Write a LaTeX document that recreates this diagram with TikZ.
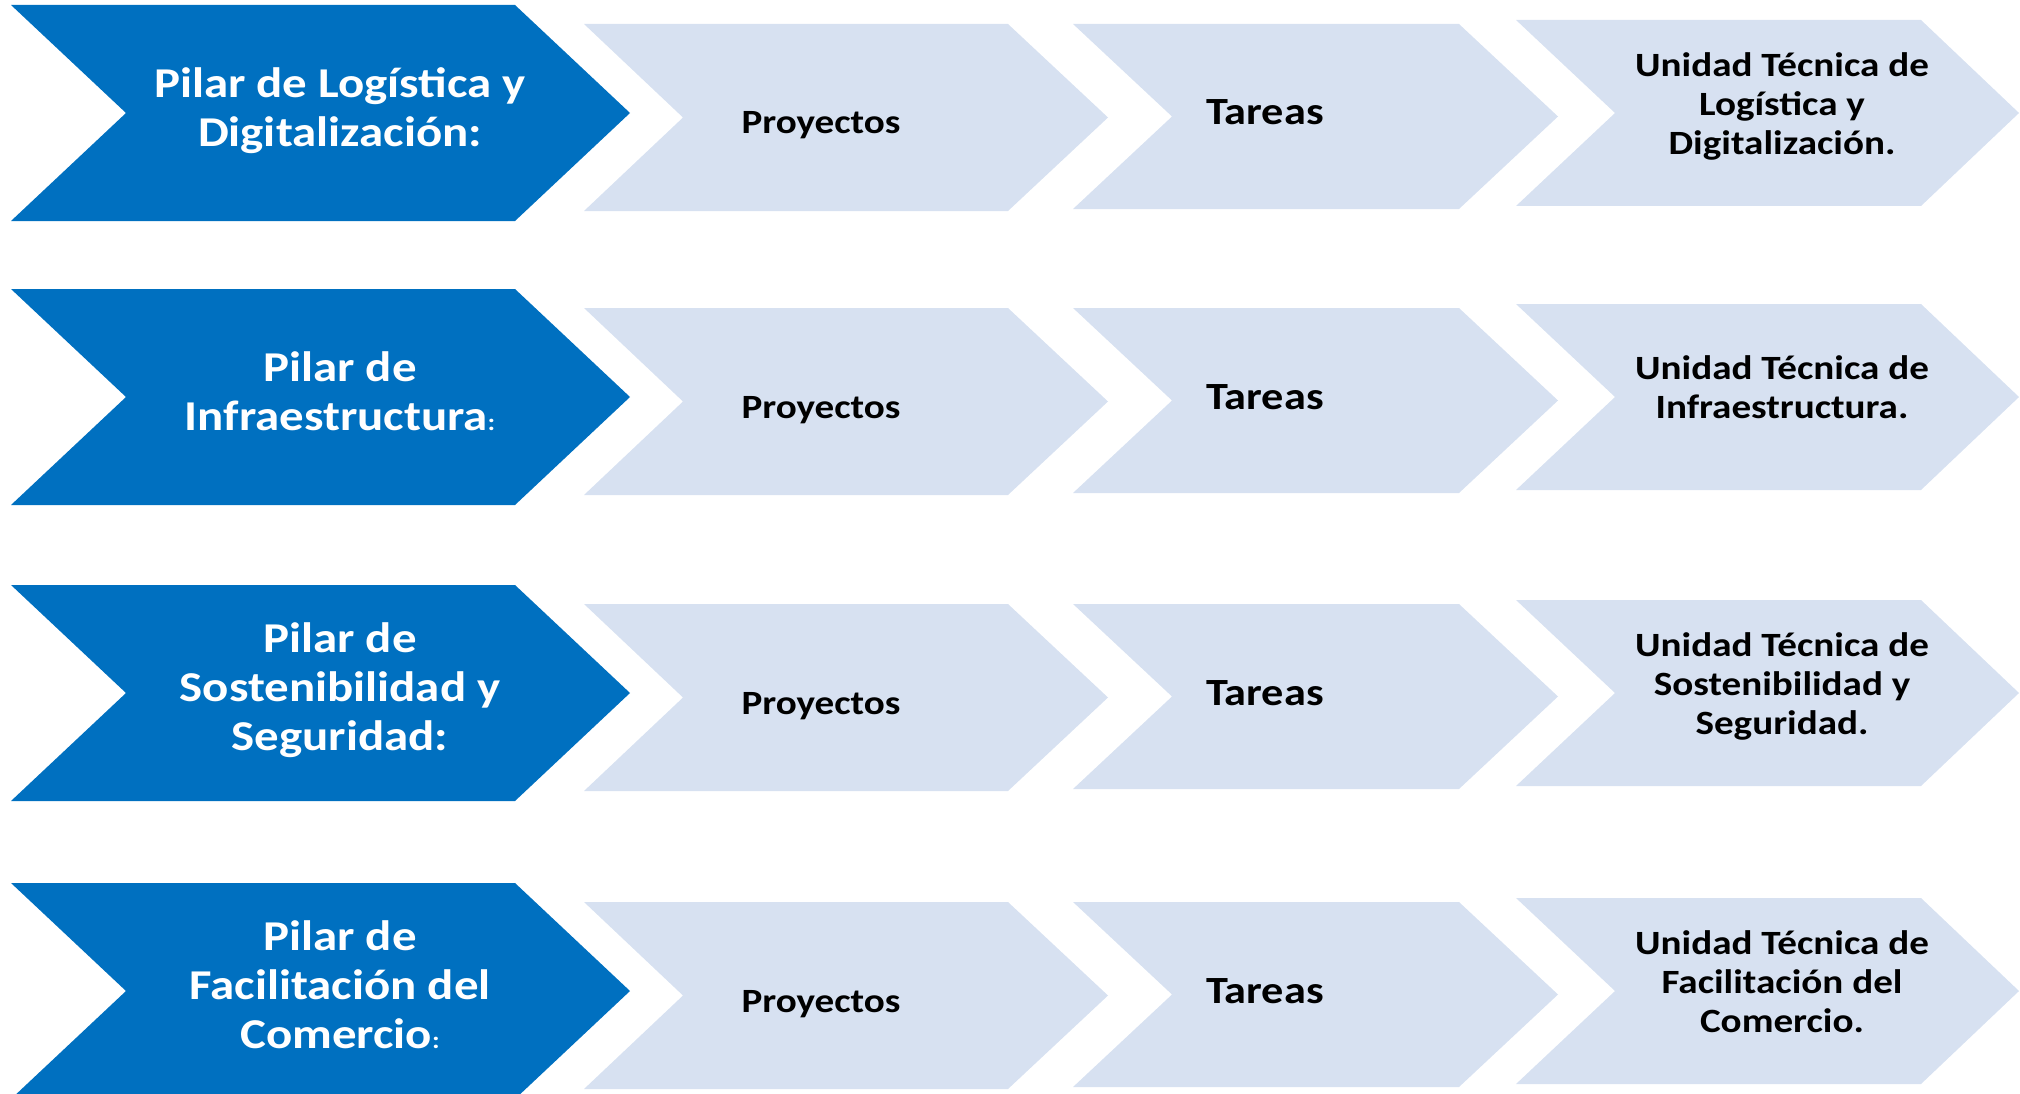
\documentclass[tikz,border=0pt]{standalone}
\usepackage{fontspec}
\setmainfont{Carlito}[FakeStretch=1.15]
\definecolor{pilarazul}{RGB}{0,112,192}
\definecolor{pasoclaro}{RGB}{215,225,241}
\newcommand\dospt{{\fontsize{24}{24}\selectfont:}}
\begin{document}
\begin{tikzpicture}[x=1pt,y=-1pt,
  pilar/.style={fill=pilarazul},
  paso/.style={fill=pasoclaro},
  txtpilar/.style={text=white,align=center,inner sep=0pt,font=\fontsize{42.5}{49}\selectfont\bfseries},
  txtpaso/.style={text=black,align=center,inner sep=0pt,font=\fontsize{34}{39}\selectfont\bfseries}]
\useasboundingbox (0,0) rectangle (2020,1094);

\foreach \t/\i/\pil/\uni in {
  5/1/{Pilar de Logística y\\Digitalización:}/{Unidad Técnica de\\Logística y\\Digitalización.},
  289/2/{Pilar de\\Infraestructura\dospt}/{Unidad Técnica de\\Infraestructura.},
  585/3/{Pilar de\\Sostenibilidad y\\Seguridad:}/{Unidad Técnica de\\Sostenibilidad y\\Seguridad.},
  883/4/{Pilar de\\Facilitación del\\Comercio\dospt}/{Unidad Técnica de\\Facilitación del\\Comercio.}}{
  % flechas
  \fill[pilar](11,\t)--(515,\t)--(630,\t+108)--(515,\t+216)--(11,\t+216)--(126,\t+108)--cycle;
  \fill[paso](584,\t+19)--(1008,\t+19)--(1108,\t+112.5)--(1008,\t+206)--(584,\t+206)--(683,\t+112.5)--cycle;
  \fill[paso](1073,\t+19)--(1459,\t+19)--(1558,\t+111.5)--(1459,\t+204)--(1073,\t+204)--(1172,\t+111.5)--cycle;
  \fill[paso](1516,\t+15)--(1921,\t+15)--(2019,\t+108)--(1921,\t+201)--(1516,\t+201)--(1615,\t+108)--cycle;
  % textos
  \node[txtpilar] (pilar\i) at (340,\t+109) {\pil\strut};
  \node[txtpaso,anchor=base] (proy\i) at (821,\t+129) {Proyectos};
  \node[txtpaso,anchor=base,font=\fontsize{38.5}{40}\selectfont\bfseries] (tarea\i) at (1265,\t+120) {Tareas};
  \node[txtpaso] (unidad\i) at (1782,\t+104) {\uni\strut};
}
\end{tikzpicture}
\end{document}
